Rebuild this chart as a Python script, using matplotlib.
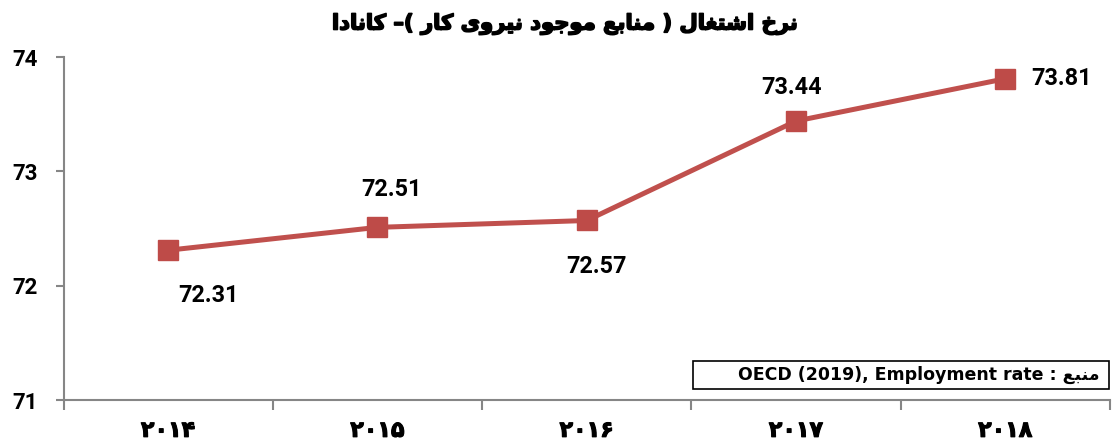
import matplotlib
matplotlib.use('Agg')
import matplotlib.pyplot as plt
import matplotlib.patheffects as pe
from matplotlib.ticker import FixedLocator

# data
years = ['۲۰۱۴', '۲۰۱۵', '۲۰۱۶', '۲۰۱۷', '۲۰۱۸']
rate = [72.31, 72.51, 72.57, 73.44, 73.81]
yticks = [71, 72, 73, 74]
title = 'نرخ اشتغال ( منابع موجود نیروی کار )– کانادا'
source_fa = 'منبع'
source_en = 'OECD (2019), Employment rate'

# label offsets in pixels (dx, dy)
label_off = [(40, -45), (14, 38), (10, -46), (-4, 34), (56, 0)]

# --- tiny persian shaper (presentation forms + reversed for RTL) ---
FORMS = {
    'ا': ('\uFE8D', '\uFE8E'),
    'ب': ('\uFE8F', '\uFE90', '\uFE91', '\uFE92'),
    'ت': ('\uFE95', '\uFE96', '\uFE97', '\uFE98'),
    'ج': ('\uFE9D', '\uFE9E', '\uFE9F', '\uFEA0'),
    'خ': ('\uFEA5', '\uFEA6', '\uFEA7', '\uFEA8'),
    'د': ('\uFEA9', '\uFEAA'),
    'ر': ('\uFEAD', '\uFEAE'),
    'ش': ('\uFEB5', '\uFEB6', '\uFEB7', '\uFEB8'),
    'ع': ('\uFEC9', '\uFECA', '\uFECB', '\uFECC'),
    'غ': ('\uFECD', '\uFECE', '\uFECF', '\uFED0'),
    'ل': ('\uFEDD', '\uFEDE', '\uFEDF', '\uFEE0'),
    'م': ('\uFEE1', '\uFEE2', '\uFEE3', '\uFEE4'),
    'ن': ('\uFEE5', '\uFEE6', '\uFEE7', '\uFEE8'),
    'و': ('\uFEED', '\uFEEE'),
    'ی': ('\uFBFC', '\uFBFD', '\uFBFE', '\uFBFF'),
    'ک': ('\uFB8E', '\uFB8F', '\uFB90', '\uFB91'),
}
MIRROR = {'(': ')', ')': '('}


def farsi(s):
    out = []
    for i, c in enumerate(s):
        f = FORMS.get(c)
        if f is None:
            out.append(MIRROR.get(c, c))
            continue
        prev = s[i - 1] if i > 0 else ''
        nxt = s[i + 1] if i + 1 < len(s) else ''
        jp = prev in FORMS and len(FORMS[prev]) == 4
        jn = len(f) == 4 and nxt in FORMS
        if jp and jn:
            out.append(f[3])
        elif jp:
            out.append(f[1])
        elif jn:
            out.append(f[2])
        else:
            out.append(f[0])
    return ''.join(out[::-1])


red = '#C0504D'
grey = '#868686'
num_font = ['Roboto', 'DejaVu Sans']
thick = [pe.withStroke(linewidth=1.2, foreground='black')]

fig = plt.figure(figsize=(11.13, 4.48), dpi=100)
ax = fig.add_axes([63.5 / 1113, 48 / 448, (1110 - 63.5) / 1113, (400 - 57) / 448])

x = list(range(len(years)))
ax.plot(x, rate, color=red, lw=3.6, marker='s', ms=14.5, mfc='#BE4B48', mec='#BE4B48', zorder=3)

for i, v in enumerate(rate):
    dx, dy = label_off[i]
    ax.annotate(f'{v:.2f}', (i, v), xytext=(dx, dy), textcoords='offset pixels',
                ha='center', va='center', fontsize=16.8, fontweight='bold',
                family=num_font, color='black')

ax.set_xlim(-0.5, 4.5)
ax.set_ylim(71, 74)

for s in ['top', 'right']:
    ax.spines[s].set_visible(False)
for s in ['left', 'bottom']:
    ax.spines[s].set_color(grey)
    ax.spines[s].set_linewidth(1.5)

ax.set_yticks(yticks)
ax.set_yticklabels([str(t) for t in yticks], fontsize=16, fontweight='bold', family=num_font)
ax.tick_params(axis='y', length=5.8, width=1.5, color=grey, pad=13)

ax.set_xticks(x)
ax.set_xticklabels(years, fontsize=16, fontweight='bold', family=['DejaVu Sans'])
for lbl in ax.get_xticklabels():
    lbl.set_path_effects([pe.withStroke(linewidth=0.8, foreground='black')])
ax.tick_params(axis='x', which='major', length=0, pad=15)
ax.xaxis.set_minor_locator(FixedLocator([i - 0.5 for i in range(len(years) + 1)]))
ax.tick_params(axis='x', which='minor', length=7.2, width=1.5, color=grey)

fig.text(565 / 1113, 1 - 24 / 448, farsi(title), ha='center', va='center',
         fontsize=15.2, fontweight='bold', family=['DejaVu Sans'], path_effects=thick)

# source box
fig.text(1100 / 1113, 1 - 375 / 448, source_en + ' : ' + farsi(source_fa),
         ha='right', va='center', fontsize=12.5, fontweight='bold',
         family=['DejaVu Sans'])
fig.patches.append(plt.Rectangle((693 / 1113, 1 - 389 / 448), 416 / 1113, 28 / 448,
                                 transform=fig.transFigure, fill=False,
                                 ec='black', lw=1.2, figure=fig))

fig.savefig('out.png', dpi=100)
